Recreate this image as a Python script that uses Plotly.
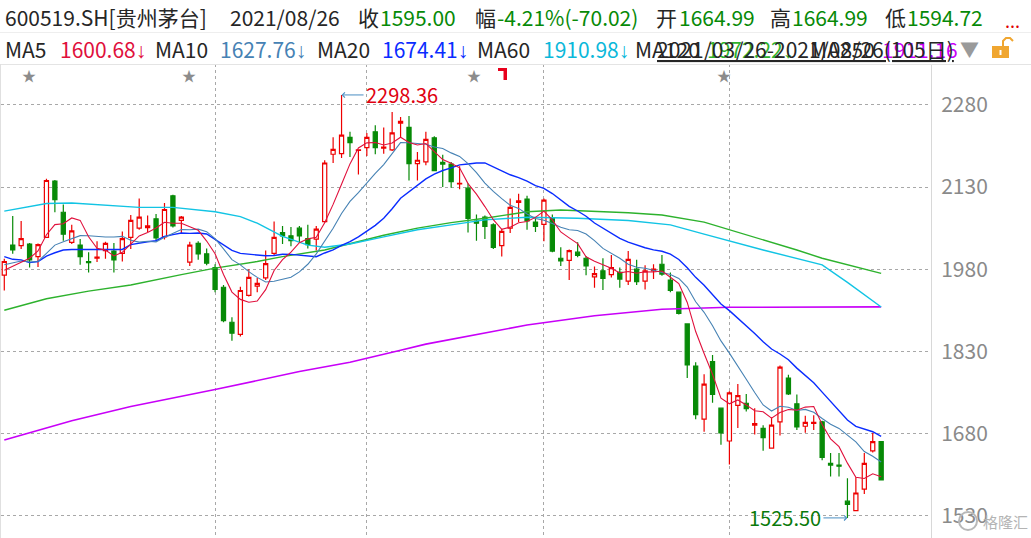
import plotly.graph_objects as go

# ---------------- daily bars 2021-03-26 .. 2021-08-26 (bar index 0..104) ----------------
opens = [1969, 2024, 2023, 2026, 2003, 2038, 2141, 2084, 2029, 2024,
         1994, 2000, 2014, 2013, 2009, 2038, 2055, 2056, 2072, 2039,
         2114, 2069, 1993, 2027, 2008, 1983, 1947, 1883, 1861, 1932,
         1949, 1964, 2009, 2047, 2041, 2055, 2036, 2035, 2067, 2190,
         2191, 2221, 2197, 2202, 2231, 2201, 2198, 2247, 2239, 2173,
         2176, 2220, 2175, 2172, 2136, 2128, 2068, 2075, 2061, 2023,
         2055, 2102, 2108, 2066, 2062, 2073, 2000, 1996, 2011, 2000,
         1966, 1977, 1970, 1974, 1958, 1980, 1958, 1977, 1989, 1960,
         1938, 1880, 1803, 1706, 1811, 1726, 1666, 1731, 1735, 1695,
         1689, 1653, 1701, 1781, 1734, 1693, 1698, 1701, 1625, 1622,
         1556, 1539, 1578, 1648, 1664.99]
highs = [1999, 2077, 2068, 2028, 2027, 2145, 2143, 2098, 2061, 2035,
         2011, 2031, 2030, 2028, 2049, 2079, 2109, 2078, 2081, 2101,
         2116, 2077, 2030, 2031, 2018, 1989, 1951, 1892, 1948, 1980,
         1964, 2014, 2067, 2059, 2057, 2059, 2061, 2059, 2179, 2221,
         2298.36, 2231, 2199, 2229, 2243, 2239, 2267, 2258, 2260, 2194,
         2231, 2223, 2189, 2176, 2168, 2137, 2080, 2078, 2064, 2054,
         2109, 2118, 2114, 2074, 2109, 2080, 2020, 2016, 2029, 2004,
         1985, 2000, 2006, 1983, 2013, 1997, 1987, 1989, 2006, 1974,
         1939, 1880, 1810, 1788, 1823, 1726, 1757, 1770, 1752, 1726,
         1695, 1709, 1804, 1787, 1751, 1712, 1713, 1703, 1644, 1644,
         1598, 1600, 1644, 1681, 1664.99]
lows = [1941, 2008, 2017, 1983, 1984, 2038, 2084, 2032, 2026, 1988,
        1974, 1993, 1999, 1974, 1994, 2017, 2052, 2048, 2031, 2034,
        2056, 2046, 1986, 1997, 1987, 1938, 1883, 1849, 1857, 1930,
        1938, 1960, 2006, 2026, 2022, 2029, 2018, 2014, 2065, 2174,
        2183, 2185, 2153, 2187, 2190, 2191, 2196, 2221, 2142, 2142,
        2170, 2159, 2130, 2129, 2126, 2047, 2032, 2035, 2017, 2003,
        2046, 2066, 2052, 2048, 2031, 2011, 1986, 1960, 2002, 1969,
        1946, 1942, 1965, 1946, 1951, 1951, 1943, 1962, 1968, 1938,
        1897, 1781, 1706, 1683, 1736, 1659, 1623, 1690, 1720, 1678,
        1648, 1652, 1676, 1750, 1686, 1681, 1686, 1631, 1601, 1601,
        1525.50, 1539, 1569, 1645, 1594.72]
closes = [1994, 2015, 2036, 1997, 2025, 2142, 2107, 2044, 2050, 2003,
          1992, 2002, 2027, 1997, 2036, 2069, 2075, 2059, 2037, 2089,
          2059, 2075, 2024, 2008, 1991, 1943, 1886, 1863, 1941, 1965,
          1954, 1990, 2038, 2041, 2032, 2041, 2025, 2053, 2174, 2199,
          2225, 2211, 2198, 2221, 2202, 2203, 2229, 2250, 2173, 2179,
          2217, 2160, 2172, 2140, 2137, 2073, 2064, 2058, 2020, 2049,
          2093, 2105, 2068, 2058, 2106, 2013, 1995, 2014, 2005, 1986,
          1972, 1963, 1983, 1962, 1998, 1957, 1977, 1980, 1971, 1941,
          1899, 1805, 1714, 1770, 1751, 1681, 1754, 1749, 1725, 1698,
          1672, 1695, 1801, 1752, 1692, 1700, 1700, 1636, 1622, 1620,
          1550, 1571, 1625, 1665.02, 1595.00]
bar_idx = list(range(len(closes)))

# ---------------- moving averages ----------------
ma5 = [1978, 1985, 1992, 2000, 2013.4, 2043.0, 2061.4, 2063.0, 2073.6, 2069.2,
       2039.2, 2018.2, 2014.8, 2004.2, 2010.8, 2026.2, 2040.8, 2047.2, 2055.2, 2065.8,
       2063.8, 2063.8, 2056.8, 2051.0, 2031.4, 2008.2, 1970.4, 1938.2, 1924.8, 1919.6,
       1921.8, 1942.6, 1977.6, 1997.6, 2011.0, 2028.4, 2035.4, 2038.4, 2065.0, 2098.4,
       2135.2, 2172.4, 2201.4, 2210.8, 2211.4, 2207.0, 2210.6, 2221.0, 2211.4, 2206.8,
       2209.6, 2195.8, 2180.2, 2173.6, 2165.2, 2136.4, 2117.2, 2094.4, 2070.4, 2052.8,
       2056.8, 2065.0, 2067.0, 2074.6, 2086.0, 2070.0, 2048.0, 2037.2, 2026.6, 2002.6,
       1994.4, 1988.0, 1981.8, 1973.2, 1975.6, 1972.6, 1975.4, 1974.8, 1976.6, 1965.2,
       1953.6, 1919.2, 1866.0, 1825.8, 1787.8, 1744.2, 1734.0, 1741.0, 1732.0, 1721.4,
       1719.6, 1707.8, 1718.2, 1723.6, 1722.4, 1728.0, 1729.0, 1696.0, 1670.0, 1655.6,
       1625.6, 1599.8, 1597.6, 1606.2, 1600.68]
ma10 = [1988, 1992, 1995, 1993, 1994, 2009, 2024, 2030, 2036, 2041.3,
        2041.1, 2039.8, 2038.9, 2038.9, 2040.0, 2032.7, 2029.5, 2031.0, 2029.7, 2038.3,
        2045.0, 2052.3, 2052.0, 2053.1, 2048.6, 2036.0, 2017.1, 1997.5, 1987.9, 1975.5,
        1965.0, 1956.5, 1957.9, 1961.2, 1965.3, 1975.1, 1989.0, 2008.0, 2031.3, 2054.7,
        2081.8, 2103.9, 2119.9, 2137.9, 2154.9, 2171.1, 2191.5, 2211.2, 2211.1, 2209.1,
        2208.3, 2203.2, 2200.6, 2192.5, 2186.0, 2173.0, 2156.5, 2137.3, 2122.0, 2109.0,
        2096.6, 2091.1, 2080.7, 2072.5, 2069.4, 2063.4, 2056.5, 2052.1, 2050.6, 2044.3,
        2032.2, 2018.0, 2009.5, 1999.9, 1989.1, 1983.5, 1981.7, 1978.3, 1974.9, 1970.4,
        1963.1, 1947.3, 1920.4, 1901.2, 1876.5, 1848.9, 1826.6, 1803.5, 1778.9, 1754.6,
        1731.9, 1720.9, 1729.6, 1727.8, 1721.9, 1723.8, 1718.4, 1707.1, 1696.8, 1689.0,
        1676.8, 1664.4, 1646.8, 1638.1, 1627.76]
ma20 = [2003, 1998, 1997, 1992, 1994, 2004, 2010, 2015, 2016, 2016,
        2016, 2016, 2017, 2016, 2016, 2025, 2028, 2030, 2032, 2039.8,
        2043.1, 2046.1, 2045.5, 2046.0, 2044.3, 2034.4, 2023.3, 2014.3, 2008.8, 2006.9,
        2005.0, 2004.4, 2005.0, 2007.2, 2007.0, 2005.6, 2003.0, 2002.8, 2009.6, 2015.1,
        2023.4, 2030.2, 2038.9, 2049.6, 2060.1, 2073.1, 2090.3, 2109.6, 2121.2, 2131.9,
        2145.1, 2153.6, 2160.3, 2165.2, 2170.5, 2172.1, 2174.0, 2174.3, 2166.6, 2159.1,
        2152.5, 2147.2, 2140.7, 2132.5, 2127.7, 2118.2, 2106.5, 2094.7, 2086.3, 2076.7,
        2064.4, 2054.6, 2045.1, 2036.2, 2029.3, 2023.5, 2019.1, 2015.2, 2012.8, 2007.4,
        1997.7, 1982.7, 1965.0, 1950.6, 1932.8, 1916.2, 1904.2, 1890.9, 1876.9, 1862.5,
        1847.5, 1834.1, 1825.0, 1814.5, 1799.2, 1786.4, 1772.5, 1755.3, 1737.9, 1721.8,
        1704.4, 1692.7, 1688.2, 1683.0, 1674.41]

ma60_idx = [0, 5, 8, 12, 16, 20, 25, 28, 30, 33, 36, 38, 41, 45, 49, 53, 57, 62, 68, 74,
            79, 83, 90, 97, 100, 104]
ma60 = [2086, 2100, 2101, 2097, 2093, 2093, 2085, 2076, 2064, 2040, 2024, 2020, 2026, 2039,
        2052, 2061, 2070, 2075, 2073, 2069, 2061, 2044, 2015, 1988, 1956, 1910.98]

ma120_idx = [0, 5, 10, 15, 21, 25, 30, 33, 38, 41, 45, 49, 53, 57, 62, 66, 70, 74, 78, 83,
             94, 97, 104]
ma120 = [1905, 1926, 1940, 1951, 1970, 1982, 1994, 2003, 2015, 2026, 2042, 2055, 2065, 2073,
         2085, 2088, 2086, 2083, 2079, 2066, 2015, 2000, 1972.22]

ma250_idx = [0, 8, 15, 25, 35, 41, 47, 50, 62, 70, 78, 83, 86, 104]
ma250 = [1668, 1703, 1729, 1760, 1793, 1810, 1832, 1843, 1878, 1895, 1906.7, 1909.6, 1910.3,
         1911.16]

price_ticks = [1530, 1680, 1830, 1980, 2130, 2280]
month_starts = [25, 43, 64, 86]     # 05/06, 06/01, 07/01, 08/02

# ---------------- colours ----------------
UP = "#EE0000"
DOWN = "#078A07"
C_MA5 = "#E0103C"
C_MA10 = "#4682B4"
C_MA20 = "#0A2CFF"
C_MA60 = "#12C4E4"
C_MA120 = "#2DB22D"
C_MA250 = "#C800F8"
DARK = "#262626"
GREEN_TXT = "#078A07"
FONT = "Noto Sans CJK SC"
DOWN_ARROW = "<span style='font-family:Liberation Sans'>↓</span>"

W, H = 1031, 538
ML, MR, MT, MB = 1, 100, 64, 0
PW, PH = W - ML - MR, H - MT - MB


def px(x):
    return (x - ML) / PW


def py(y):
    return (H - MB - y) / PH


fig = go.Figure()

fig.add_trace(go.Scatter(x=ma250_idx, y=ma250, mode="lines",
                         line=dict(color=C_MA250, width=1.6), hoverinfo="skip"))
fig.add_trace(go.Scatter(x=ma120_idx, y=ma120, mode="lines",
                         line=dict(color=C_MA120, width=1.4), hoverinfo="skip"))
fig.add_trace(go.Scatter(x=ma60_idx, y=ma60, mode="lines",
                         line=dict(color=C_MA60, width=1.4), hoverinfo="skip"))
fig.add_trace(go.Scatter(x=bar_idx, y=ma20, mode="lines",
                         line=dict(color=C_MA20, width=1.4), hoverinfo="skip"))
fig.add_trace(go.Scatter(x=bar_idx, y=ma10, mode="lines",
                         line=dict(color=C_MA10, width=1.1), hoverinfo="skip"))
fig.add_trace(go.Scatter(x=bar_idx, y=ma5, mode="lines",
                         line=dict(color=C_MA5, width=1.1), hoverinfo="skip"))

fig.add_trace(go.Candlestick(
    x=bar_idx, open=opens, high=highs, low=lows, close=closes,
    increasing=dict(line=dict(color=UP, width=1.2), fillcolor="#FFFFFF"),
    decreasing=dict(line=dict(color=DOWN, width=1.2), fillcolor=DOWN),
    whiskerwidth=0, hoverinfo="skip"))

ann = []


def label(text, x, y, color=DARK, size=21, **kw):
    ann.append(dict(text=text, x=px(x), y=py(y), xref="paper", yref="paper",
                    xanchor="left", yanchor="middle", showarrow=False,
                    font=dict(family=FONT, size=size, color=color, **kw)))


# header line 1
row1 = 17.5
label("600519.SH[贵州茅台]", 3, row1)
label("2021/08/26", 228, row1)
label("收", 356, row1)
label("1595.00", 378, row1, GREEN_TXT)
label("幅", 473, row1)
label("-4.21%(-70.02)", 495, row1, GREEN_TXT)
label("开", 654, row1)
label("1664.99", 677, row1, GREEN_TXT)
label("高", 768, row1)
label("1664.99", 790, row1, GREEN_TXT)
label("低", 883, row1)
label("1594.72", 905, row1, GREEN_TXT)
label("...", 1003, row1 + 3, "#E00000", size=18)

# header line 2: moving-average legend
row2 = 49.5
label("MA5", 3, row2)
label("1600.68" + DOWN_ARROW, 58, row2, C_MA5)
label("MA10", 153, row2)
label("1627.76" + DOWN_ARROW, 218, row2, C_MA10)
label("MA20", 315, row2)
label("1674.41" + DOWN_ARROW, 380, row2, C_MA20)
label("MA60", 475, row2)
label("1910.98" + DOWN_ARROW, 541, row2, "#0BB8DA")
label("MA120", 633, row2)
label("1972.22" + DOWN_ARROW, 705, row2, C_MA120)
label("MA250", 808, row2)
label("1911.16", 880, row2, C_MA250)
label("2021/03/26-2021/08/26(105日)", 655, row2, DARK, lineposition="under")
label("▼", 958, row2 - 1, "#9A9A9A", size=19)

# event markers
for sx in [29, 189, 474, 724]:
    ann.append(dict(text="★", x=px(sx), y=py(75), xref="paper", yref="paper",
                    xanchor="center", yanchor="middle", showarrow=False,
                    font=dict(family=FONT, size=14, color="#8C8C8C")))

# extreme-price callouts
ann.append(dict(x=40, y=2298.36, xref="x", yref="y", text="2298.36",
                showarrow=True, arrowhead=4, arrowsize=1, arrowwidth=1,
                arrowcolor="#4A8EC2", ax=22, ay=0, xanchor="left", yanchor="middle",
                font=dict(family=FONT, size=20, color="#E00010")))
ann.append(dict(x=100, y=1525.50, xref="x", yref="y", text="1525.50",
                showarrow=True, arrowhead=4, arrowsize=1, arrowwidth=1,
                arrowcolor="#4A8EC2", ax=-24, ay=0, xanchor="right", yanchor="middle",
                font=dict(family=FONT, size=20, color="#0A7A0A")))

# watermark
ann.append(dict(text="格隆汇", x=px(981), y=py(521), xref="paper", yref="paper",
                xanchor="left", yanchor="middle", showarrow=False,
                font=dict(family=FONT, size=15, color="#B4B4B4")))

shapes = []
# header separators and plot border
shapes.append(dict(type="line", xref="paper", yref="paper", x0=px(0), x1=px(W),
                   y0=py(32.5), y1=py(32.5), line=dict(color="#EEEEEE", width=1)))
shapes.append(dict(type="line", xref="paper", yref="paper", x0=px(0), x1=px(W),
                   y0=py(64.5), y1=py(64.5), line=dict(color="#E4E4E4", width=1)))
shapes.append(dict(type="line", xref="paper", yref="paper", x0=px(0.5), x1=px(0.5),
                   y0=0, y1=1, line=dict(color="#E0E0E0", width=1)))
# red flag marker
shapes.append(dict(type="rect", xref="paper", yref="paper", x0=px(498), x1=px(507),
                   y0=py(71), y1=py(68), fillcolor="#E8001C", line=dict(width=0)))
shapes.append(dict(type="rect", xref="paper", yref="paper", x0=px(503.5), x1=px(507),
                   y0=py(80), y1=py(68), fillcolor="#E8001C", line=dict(width=0)))
# lock icon
shapes.append(dict(type="rect", xref="paper", yref="paper", x0=px(992), x1=px(1009),
                   y0=py(58), y1=py(46), fillcolor="#F0A630", line=dict(width=0)))
shapes.append(dict(type="path", xref="paper", yref="paper",
                   path=(f"M {px(1003)} {py(46)} L {px(1003)} {py(41)} "
                         f"L {px(1006)} {py(38)} L {px(1010)} {py(38)} L {px(1013)} {py(41)}"),
                   line=dict(color="#F0A630", width=2)))
shapes.append(dict(type="rect", xref="paper", yref="paper", x0=px(999.5), x1=px(1001.5),
                   y0=py(55), y1=py(50), fillcolor="#FFFFFF", line=dict(width=0)))
# watermark logo ring
shapes.append(dict(type="circle", xref="paper", yref="paper", x0=px(959), x1=px(977),
                   y0=py(530), y1=py(512), line=dict(color="#B8B8B8", width=2)))

fig.update_layout(
    width=W, height=H,
    margin=dict(l=ML, r=MR, t=MT, b=MB, pad=0),
    paper_bgcolor="#FFFFFF", plot_bgcolor="#FFFFFF",
    showlegend=False, hovermode=False,
    annotations=ann, shapes=shapes,
    xaxis=dict(range=[-0.39, 109.91], rangeslider=dict(visible=False),
               tickvals=month_starts, showticklabels=False, ticks="",
               showgrid=True, gridcolor="#A8A8A8", griddash="dot", gridwidth=1,
               zeroline=False, showline=False, fixedrange=True),
    yaxis=dict(range=[1488.8, 2354.9], side="right", tickvals=price_ticks,
               ticktext=[str(t) for t in price_ticks], ticks="",
               tickfont=dict(family=FONT, size=21, color="#8A8A8A"),
               ticklabelstandoff=5,
               showgrid=True, gridcolor="#A8A8A8", griddash="dot", gridwidth=1,
               zeroline=False, showline=True, linecolor="#D8D8D8", linewidth=1,
               fixedrange=True),
    font=dict(family=FONT),
)

fig.write_html("out.html")
